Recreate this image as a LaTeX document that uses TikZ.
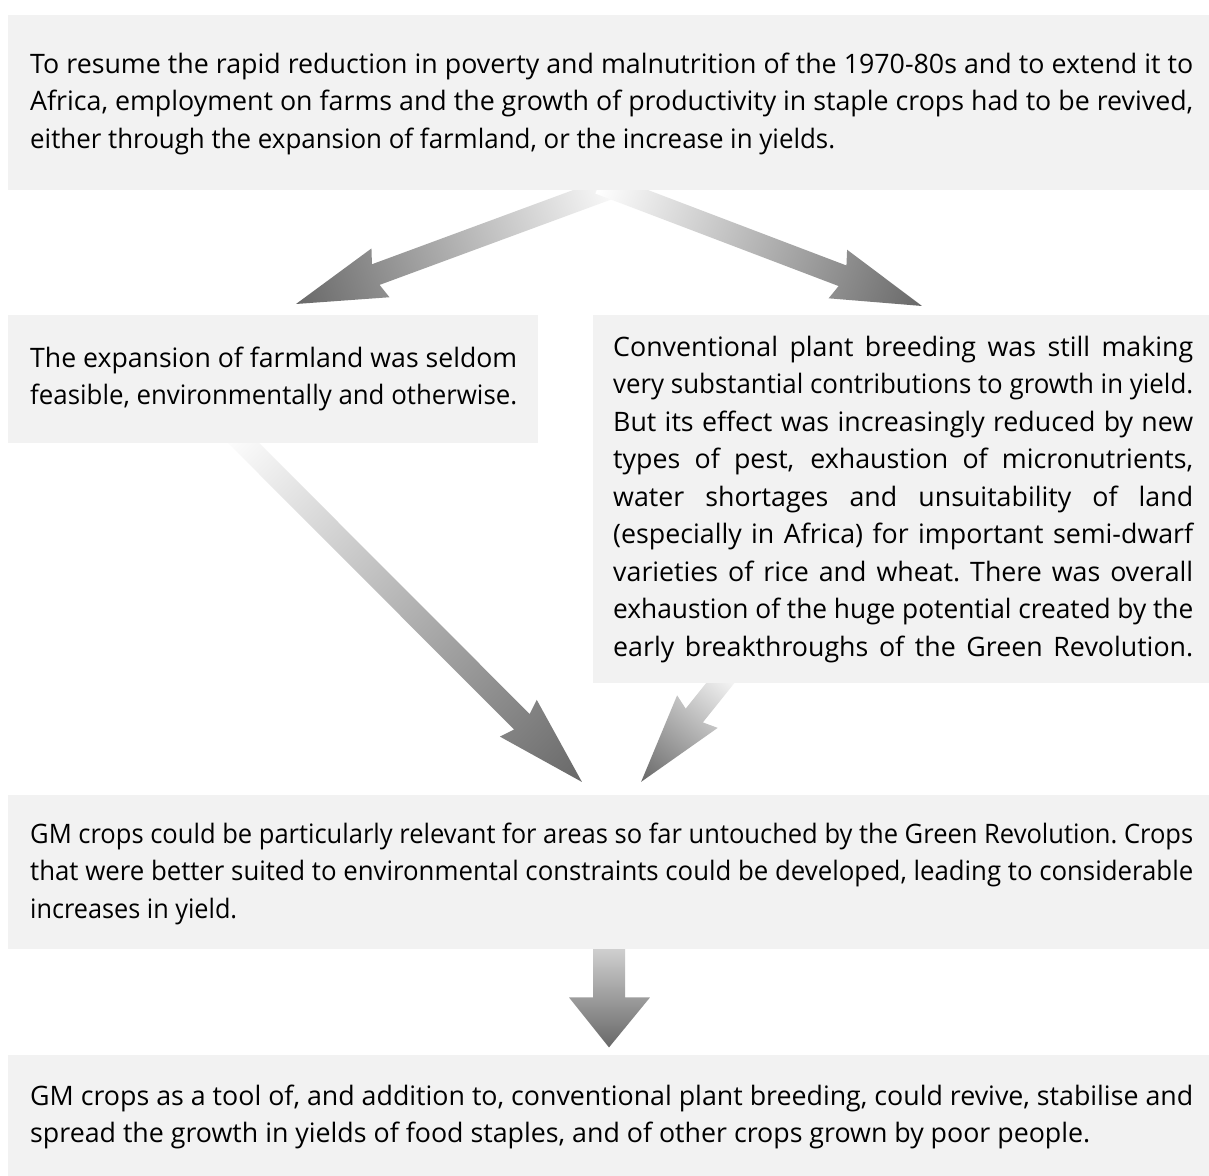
\documentclass[tikz,border=0pt]{standalone}
\usepackage{fontspec}
\usepackage{graphicx}
\setmainfont{Open Sans}
\usetikzlibrary{calc}
\pgfdeclarelayer{bottom}
\pgfdeclarelayer{background}
\pgfsetlayers{bottom,background,main}
\definecolor{boxfill}{RGB}{242,242,242}
\definecolor{arrdark}{RGB}{104,104,104}
\definecolor{arrlight}{RGB}{208,208,208}
\newlength\reflen
\settowidth\reflen{\fontsize{10pt}{12pt}\selectfont spread the growth in yields of food staples, and of other crops grown by poor people.}
\pgfmathsetmacro\fs{10*1060/\reflen}
\newcommand\txtfont{\fontsize{\fs pt}{37.5pt}\selectfont}
\newcommand\setsp{\spaceskip=\fontdimen2\font plus 1em minus 0.03em\relax
  \xspaceskip=\spaceskip \hbadness=10000 \hfuzz=60pt\relax}
\newcommand\fr{\rule{0pt}{25pt}}
\newsavebox\lnbox
\newlength\lnw
% \jln[target width]{line}: set the line to exactly the target width, left aligned
\newcommand\jln[2][\hsize]{\setlength\lnw{#1}\sbox\lnbox{#2}%
  \ifdim\wd\lnbox>\lnw
    \pgfmathsetmacro\lnsc{\the\lnw/\the\wd\lnbox}%
    \hbox to\hsize{\scalebox{\lnsc}[1]{\usebox\lnbox}\hss}%
  \else \hbox to\hsize{\hbox to\lnw{#2}\hss}\fi}
\newcommand\blockarrow[2]{%
  \path let \p1=(#1), \p2=(#2) in \pgfextra{%
    \pgfmathsetmacro\arrang{atan2(\y2-\y1,\x2-\x1)}%
    \pgfmathsetmacro\arrlen{veclen(\x2-\x1,\y2-\y1)+20}%
    \global\let\arrang\arrang \global\let\arrlen\arrlen};
  \coordinate (tmpS) at ($(#1)!-20pt!(#2)$);
  \begin{scope}[transform canvas={shift={(tmpS)},rotate=\arrang}]
    \shade[left color=white,right color=arrdark]
      (0,-11) -- ({\arrlen-85},-11) -- ({\arrlen-90},-26) -- (\arrlen,0)
      -- ({\arrlen-90},26) -- ({\arrlen-85},11) -- (0,11) -- cycle;
  \end{scope}}
\begin{document}
\begin{tikzpicture}[x=1pt,y=-1pt,
  boxs/.style={fill=boxfill, draw=none, inner sep=0pt, anchor=north west},
  txt/.style={inner sep=0pt, anchor=north west, font=\txtfont, text=black}]
\useasboundingbox (0,0) rectangle (1209,1175);
\begin{pgfonlayer}{bottom}
\fill[white] (0,0) rectangle (1209,1175);
\end{pgfonlayer}
% boxes
\node[boxs, minimum width=1210pt, minimum height=175pt] (btop) at (8,15) {};
\node[boxs, minimum width=530pt, minimum height=128pt] (bleft) at (8,315) {};
\node[boxs, minimum width=620pt, minimum height=368pt] (bright) at (593,315) {};
\node[boxs, minimum width=1210pt, minimum height=154pt] (bgm) at (8,795) {};
\node[boxs, minimum width=1210pt, minimum height=125pt] (bbot) at (8,1055) {};
% texts
\node[txt, text width=1163pt] (ttop) at (30,48) {\setsp
\jln{\fr To resume the rapid reduction in poverty and malnutrition of the 1970-80s and to extend it to}
\jln{Africa, employment on farms and the growth of productivity in staple crops had to be revived,}
\jln[805pt]{either through the expansion of farmland, or the increase in yields.}};
\node[txt, text width=487pt] (tleft) at (30,342) {\setsp
\jln{\fr The expansion of farmland was seldom}
\jln{feasible, environmentally and otherwise.}};
\node[txt, text width=580pt] (tright) at (613,331) {\setsp
\jln{\fr Conventional plant breeding was still making}
\jln{very substantial contributions to growth in yield.}
\jln{But its effect was increasingly reduced by new}
\jln{types of pest, exhaustion of micronutrients,}
\jln{water shortages and unsuitability of land}
\jln{(especially in Africa) for important semi-dwarf}
\jln{varieties of rice and wheat. There was overall}
\jln{exhaustion of the huge potential created by the}
\jln{early breakthroughs of the Green Revolution.}};
\node[txt, text width=1163pt] (tgm) at (30,818) {\setsp
\jln{\fr GM crops could be particularly relevant for areas so far untouched by the Green Revolution. Crops}
\jln{that were better suited to environmental constraints could be developed, leading to considerable}
\jln[207pt]{increases in yield.}};
\node[txt, text width=1163pt] (tbot) at (30,1080) {\setsp
\jln{\fr GM crops as a tool of, and addition to, conventional plant breeding, could revive, stabilise and}
\jln[1060pt]{spread the growth in yields of food staples, and of other crops grown by poor people.}};
% arrows
\begin{pgfonlayer}{background}
\coordinate (a1s) at ($(btop.south west)+(596,0)$);
\coordinate (a1t) at (296,304);
\coordinate (a2s) at ($(btop.south west)+(610,0)$);
\coordinate (a2t) at (922,306);
\coordinate (a3s) at ($(bleft.south west)+(236,0)$);
\coordinate (a3t) at (582,782);
\coordinate (a4s) at ($(bright.south west)+(127,0)$);
\coordinate (a4t) at (641,782);
\blockarrow{a1s}{a1t}
\blockarrow{a2s}{a2t}
\blockarrow{a3s}{a3t}
\blockarrow{a4s}{a4t}
\coordinate (d0) at ($(bgm.south west)+(601,-1)$);
\coordinate (d1) at ($(d0)+(0,99)$);
\shade[top color=arrlight, bottom color=arrdark]
  ($(d0)+(-16,0)$) -- ($(d0)+(16,0)$) -- ($(d0)+(16,49)$) -- ($(d0)+(41,49)$)
  -- (d1) -- ($(d0)+(-40,49)$) -- ($(d0)+(-16,49)$) -- cycle;
\end{pgfonlayer}
\end{tikzpicture}
\end{document}
